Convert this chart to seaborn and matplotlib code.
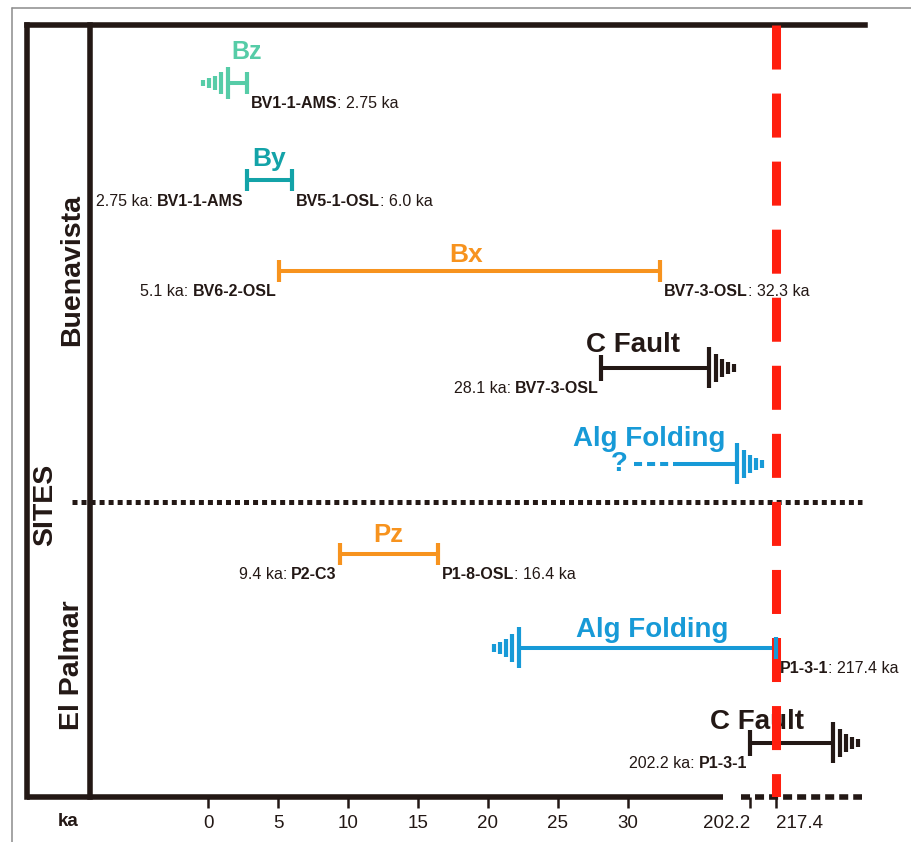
import numpy as np
import pandas as pd
import seaborn as sns
import matplotlib
matplotlib.use("Agg")
import matplotlib.pyplot as plt
from matplotlib.lines import Line2D
from matplotlib.transforms import offset_copy

# ---- data (ages in ka), events listed top to bottom ----
event_names = ["Bz", "By", "Bx", "C Fault", "Alg Folding", "Pz", "Alg Folding", "C Fault"]
event_sites = ["Buenavista"] * 5 + ["El Palmar"] * 3
age_min = [1.4, 2.75, 5.1, 28.1, 33.2, 9.4, 22.2, 202.2]
age_max = [2.75, 6.0, 32.3, 35.8, 122.5, 16.4, 217.4, 250.7]
open_end = ["min", None, None, "max", "max", None, "min", "max"]
uncertain_from = [None, None, None, None, 30.4, None, None, None]
min_sample = [None, "BV1-1-AMS", "BV6-2-OSL", "BV7-3-OSL", None, "P2-C3", None, "P1-3-1"]
max_sample = ["BV1-1-AMS", "BV5-1-OSL", "BV7-3-OSL", None, None, "P1-8-OSL", "P1-3-1", None]
event_colors = ["#56CCA7", "#13A3A8", "#F7931E", "#231815",
                "#179AD7", "#F7931E", "#179AD7", "#231815"]
site_names = ["Buenavista", "SITES", "El Palmar"]
tick_ka = [0, 5, 10, 15, 20, 25, 30, 202.2, 217.4]
tick_labels = ["0", "5", "10", "15", "20", "25", "30", "202.2", "217.4"]
boundary_ka = 217.4

DARK = "#231815"
RED = "#FF1E0E"

# broken time axis: linear up to the break, compressed gap, then 202.2+
GAP_LO, GAP_HI, GAP_POS, HI_SLOPE = 36.8, 202.2, 38.71, 0.1222


def ka_to_pos(ka):
    ka = np.asarray(ka, dtype=float)
    mid = GAP_LO + (ka - GAP_LO) * (GAP_POS - GAP_LO) / (GAP_HI - GAP_LO)
    hi = GAP_POS + (ka - GAP_HI) * HI_SLOPE
    return np.where(ka <= GAP_LO, ka, np.where(ka < GAP_HI, mid, hi))


def pos_to_ka(pos):
    pos = np.asarray(pos, dtype=float)
    mid = GAP_LO + (pos - GAP_LO) * (GAP_HI - GAP_LO) / (GAP_POS - GAP_LO)
    hi = GAP_HI + (pos - GAP_POS) / HI_SLOPE
    return np.where(pos <= GAP_LO, pos, np.where(pos < GAP_POS, mid, hi))


sns.set_theme(style="white")
plt.rcParams["font.family"] = ["Liberation Sans", "DejaVu Sans"]
plt.rcParams["lines.scale_dashes"] = False

W, H = 911, 842
L, R, T, B = 27, 865, 25, 797
X0_PX, PX_PER_UNIT = 208, 14.0
row_y = [83, 180, 271, 368, 464, 554, 648, 743]

fig = plt.figure(figsize=(W / 100, H / 100), dpi=100)
ax = fig.add_axes([L / W, 1 - B / H, (R - L) / W, (B - T) / H])


def fx(px):
    return (px - L) / (R - L)


# solid event bars
rows = []
for i in range(len(event_names)):
    rows.append((age_min[i], row_y[i], f"e{i}"))
    rows.append((age_max[i], row_y[i], f"e{i}"))
seg = pd.DataFrame(rows, columns=["ka", "y", "event"])
pal = {f"e{i}": c for i, c in enumerate(event_colors)}
BAR_LW = 2.9
sns.lineplot(data=seg, x="ka", y="y", hue="event", palette=pal, estimator=None,
             sort=False, legend=False, linewidth=BAR_LW, solid_capstyle="butt", ax=ax)

ax.set_xscale("function", functions=(ka_to_pos, pos_to_ka))
ax.set_xlim(float(pos_to_ka((L - X0_PX) / PX_PER_UNIT)), float(pos_to_ka((R - X0_PX) / PX_PER_UNIT)))
ax.set_ylim(B, T)
for s in ax.spines.values():
    s.set_visible(False)
ax.set_xlabel("")
ax.set_ylabel("")
ax.set_yticks([])
ax.grid(False)
ax.set_xticks(tick_ka, tick_labels)
ax.tick_params(axis="x", bottom=True, direction="out", length=8, width=1.8,
               color=DARK, pad=5, labelsize=13.5, labelcolor=DARK)
xt = ax.get_xticklabels()
xt[-2].set_horizontalalignment("right")
xt[-1].set_horizontalalignment("left")

# uncertain (dashed) part + question mark
for i, u in enumerate(uncertain_from):
    if u is None:
        continue
    ax.plot([u, age_min[i]], [row_y[i], row_y[i]], color=event_colors[i], lw=BAR_LW,
            dashes=(5.8, 3.6), dash_capstyle="butt")
    ax.annotate("?", xy=(u, row_y[i]), xytext=(-14, 0), textcoords="offset pixels",
                ha="center", va="center", fontsize=20, fontweight="bold", color=event_colors[i])

# end caps and open-end "rattles"
rattle_off = [0, 7, 13, 19, 25]
rattle_frac = [1, 0.68, 0.45, 0.29, 0.19]
for i in range(len(event_names)):
    y, c = row_y[i], event_colors[i]
    for side, x in (("min", age_min[i]), ("max", age_max[i])):
        if open_end[i] == side:
            tall = 32 if i == 0 else 41
            d = -1 if side == "min" else 1
            for off, f in zip(rattle_off, rattle_frac):
                tr = offset_copy(ax.transData, fig=fig, x=d * off, y=0, units="dots")
                ax.vlines(x, y - tall * f / 2, y + tall * f / 2, colors=c, lw=3.0, transform=tr)
        elif side == "min" and uncertain_from[i] is not None:
            continue
        else:
            h = 26 if (event_names[i] == "C Fault" and side == "min") else 22
            ax.vlines(x, y - h / 2, y + h / 2, colors=c, lw=3.0, zorder=5)

# sample labels
SMALL = 11.5
for i in range(len(event_names)):
    y = row_y[i]
    if max_sample[i]:
        t1 = ax.annotate(max_sample[i], xy=(age_max[i], y), xytext=(4, -21),
                         textcoords="offset pixels", ha="left", va="center",
                         fontsize=SMALL, fontweight="bold", color=DARK)
        ax.annotate(f": {age_max[i]} ka", xy=(1, 0.5), xycoords=t1, ha="left",
                    va="center", fontsize=SMALL, color=DARK)
    if min_sample[i]:
        t1 = ax.annotate(min_sample[i], xy=(age_min[i], y), xytext=(-3, -21),
                         textcoords="offset pixels", ha="right", va="center",
                         fontsize=SMALL, fontweight="bold", color=DARK)
        ax.annotate(f"{age_min[i]} ka:", xy=(0, 0.5), xycoords=t1, xytext=(-4, 0),
                    textcoords="offset pixels", ha="right", va="center",
                    fontsize=SMALL, color=DARK)

# event names above bars
name_dx = [10, 0, -4, -22, -36, 0, 5, -34]
name_dy = [31, 21, 16, 23, 25, 19, 18, 21]
name_size = [18, 19, 19, 20, 20, 18.5, 20, 20]
for i, name in enumerate(event_names):
    a = uncertain_from[i] if uncertain_from[i] is not None else age_min[i]
    p = ax.transData.transform([[a, row_y[i]], [age_max[i], row_y[i]]])
    cx = p[:, 0].mean()
    ax.annotate(name, xy=(a, row_y[i]), xytext=(cx - p[0, 0] + name_dx[i], name_dy[i]),
                textcoords="offset pixels", ha="center", va="center",
                fontsize=name_size[i], fontweight="bold", color=event_colors[i])

# boundary line
ax.plot([boundary_ka, boundary_ka], [T, B], color=RED, lw=6.5, dashes=(31.7, 17.3),
        dash_capstyle="butt", zorder=4)

# frame
frame_kw = dict(color=DARK, lw=4.0, transform=ax.transAxes, clip_on=False,
                solid_capstyle="projecting")
ax.plot([0, 0], [0, 1], **frame_kw)
ax.plot([fx(90), fx(90)], [0, 1], **frame_kw)
ax.plot([0, 1], [1, 1], **frame_kw)
ax.plot([0, fx(723)], [0, 0], color=DARK, lw=4.0, transform=ax.transAxes,
        clip_on=False, solid_capstyle="butt")
ax.plot([fx(741), fx(862)], [0, 0], color=DARK, lw=4.0, transform=ax.transAxes,
        clip_on=False, dashes=(6.5, 3.6), dash_capstyle="butt")
ax.plot([fx(72), fx(862)], [502, 502], color=DARK, lw=3.6,
        transform=ax.get_yaxis_transform(), clip_on=False, dashes=(3.6, 2.9),
        dash_capstyle="butt")

# site labels
yt = ax.get_yaxis_transform()
for name, xp, yp in zip(site_names, [72, 45, 72], [270, 505, 665]):
    ax.text(fx(xp), yp, name, transform=yt, rotation=90, ha="center", va="center",
            fontsize=20.5, fontweight="bold", color=DARK)
ax.text(fx(68), 822, "ka", transform=yt, ha="center", va="center", fontsize=13.5,
        fontweight="bold", color=DARK)

# thin outer border
gray = "#8c8c8c"
fig.add_artist(Line2D([12 / W, 1], [1 - 8 / H, 1 - 8 / H], transform=fig.transFigure, color=gray, lw=1.1))
fig.add_artist(Line2D([12 / W, 12 / W], [0, 1 - 8 / H], transform=fig.transFigure, color=gray, lw=1.1))

fig.savefig("out.png", dpi=100, facecolor="white")
